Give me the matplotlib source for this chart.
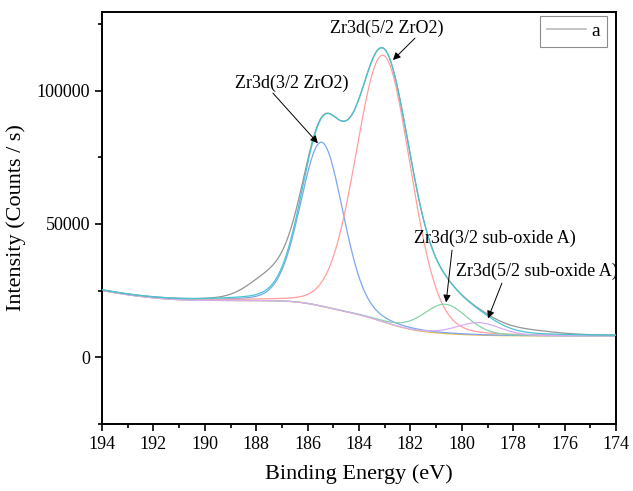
import numpy as np
import matplotlib
matplotlib.use("Agg")
import matplotlib.pyplot as plt
from matplotlib.ticker import MultipleLocator

plt.rcParams['font.family'] = ['Liberation Serif', 'DejaVu Serif']

# ---- data ----
peak_names = ["Zr3d(3/2 ZrO2)", "Zr3d(5/2 ZrO2)", "Zr3d(3/2 sub-oxide A)", "Zr3d(5/2 sub-oxide A)"]
peak_centers = [185.45, 183.05, 180.65, 179.35]      # eV
peak_heights = [61500, 100000, 11000, 4700]           # counts/s above background
peak_fwhm = [1.95, 2.50, 2.00, 2.00]                  # eV
peak_gl_mix = [0.15, 0.1, 0.2, 0.2]                   # Lorentzian fraction
peak_colors = ["#7aa6f2", "#ff9e9e", "#86d3a8", "#d8acf4"]

bg_low = 8000        # background level at low binding energy
bg_high = 21400      # background level at high binding energy
bg_tail = 3700       # extra rise of background toward 194 eV

raw_extra_centers = [187.5, 177.6]   # features of the measured curve not in the fit
raw_extra_heights = [7000, 1300]
raw_extra_fwhm = [1.9, 2.6]

energy_range = (194.0, 174.0)
energy_step = 0.05

x_ticks = [194, 192, 190, 188, 186, 184, 182, 180, 178, 176, 174]
y_ticks = [0, 50000, 100000]

legend_label = "a"

annotations = [
    # text, text position (eV, counts), arrow start, arrow tip
    ("Zr3d(5/2 ZrO2)", (182.91, 123500), (181.82, 119700), (182.68, 111500)),
    ("Zr3d(3/2 ZrO2)", (186.61, 102900), (187.35, 99100), (185.60, 80300)),
    ("Zr3d(3/2 sub-oxide A)", (178.71, 44700), (180.38, 40200), (180.61, 20600)),
    ("Zr3d(5/2 sub-oxide A)", (177.07, 32300), (178.44, 27800), (178.98, 14600)),
]


def pseudo_voigt(e, c, h, w, m):
    d = (e - c) / w
    g = np.exp(-4 * np.log(2) * d ** 2)
    l = 1.0 / (1.0 + 4 * d ** 2)
    return h * ((1 - m) * g + m * l)


E = np.arange(energy_range[0], energy_range[1] - energy_step / 2, -energy_step)
peaks = [pseudo_voigt(E, c, h, w, m) for c, h, w, m in
         zip(peak_centers, peak_heights, peak_fwhm, peak_gl_mix)]
total = np.sum(peaks, axis=0)

# Shirley-type background: proportional to the peak area at lower binding energy
rev = total[::-1]
cum = np.concatenate([[0], np.cumsum((rev[1:] + rev[:-1]) / 2)])[::-1]
frac = cum / cum[0]
tail = np.where(E > 190, bg_tail * ((E - 190) / 4.0) ** 2, 0)
background = bg_low + (bg_high - bg_low) * frac + tail

envelope = background + total
raw = envelope.copy()
for c, h, w in zip(raw_extra_centers, raw_extra_heights, raw_extra_fwhm):
    raw += pseudo_voigt(E, c, h, w, 0.0)

# ---- figure ----
fig = plt.figure(figsize=(6.33, 4.91), dpi=100)
ax = fig.add_axes([102 / 633, 1 - 424 / 491, (616 - 102) / 633, (424 - 12) / 491])

ax.plot(E, raw, color="#959595", lw=0.9, label=legend_label, zorder=3)
ax.plot(E, background, color="#e6bc50", lw=0.9, zorder=2)
for p, col in zip(peaks, peak_colors):
    ax.plot(E, background + p, color=col, lw=0.9, zorder=2)
ax.plot(E, envelope, color="#45c6d2", lw=0.9, zorder=4)

for text, tpos, start, tip in annotations:
    ax.text(tpos[0], tpos[1], text, ha="center", va="center", fontsize=13, zorder=6)
    ax.annotate("", xy=tip, xytext=start,
                arrowprops=dict(arrowstyle="-|>", color="black", lw=0.7,
                                mutation_scale=11, shrinkA=0, shrinkB=0), zorder=6)

ax.set_xlim(194, 174)
ax.set_ylim(-25000, 129500)
ax.set_xticks(x_ticks)
ax.set_yticks(y_ticks)
ax.xaxis.set_minor_locator(MultipleLocator(1))
ax.yaxis.set_minor_locator(MultipleLocator(25000))
ax.tick_params(which="major", direction="out", length=5, width=1.2, labelsize=13)
ax.tick_params(which="minor", direction="out", length=3, width=1.2)
for s in ax.spines.values():
    s.set_linewidth(1.4)

ax.set_xlabel("Binding Energy (eV)", fontsize=16, labelpad=8)
ax.set_ylabel("Intensity (Counts / s)", fontsize=16, labelpad=8)

leg = ax.legend(loc="upper right", fontsize=14, frameon=True, fancybox=False,
                edgecolor="#707070", handlelength=2.0, borderaxespad=0.0,
                bbox_to_anchor=(607 / 633, 1 - 15.5 / 491),
                bbox_transform=fig.transFigure,
                borderpad=0.35, handletextpad=0.3)
leg.get_frame().set_linewidth(0.8)
leg.get_lines()[0].set_color("#c0c0c0")
leg.get_lines()[0].set_linewidth(1.3)

fig.savefig("out.png", dpi=100)
